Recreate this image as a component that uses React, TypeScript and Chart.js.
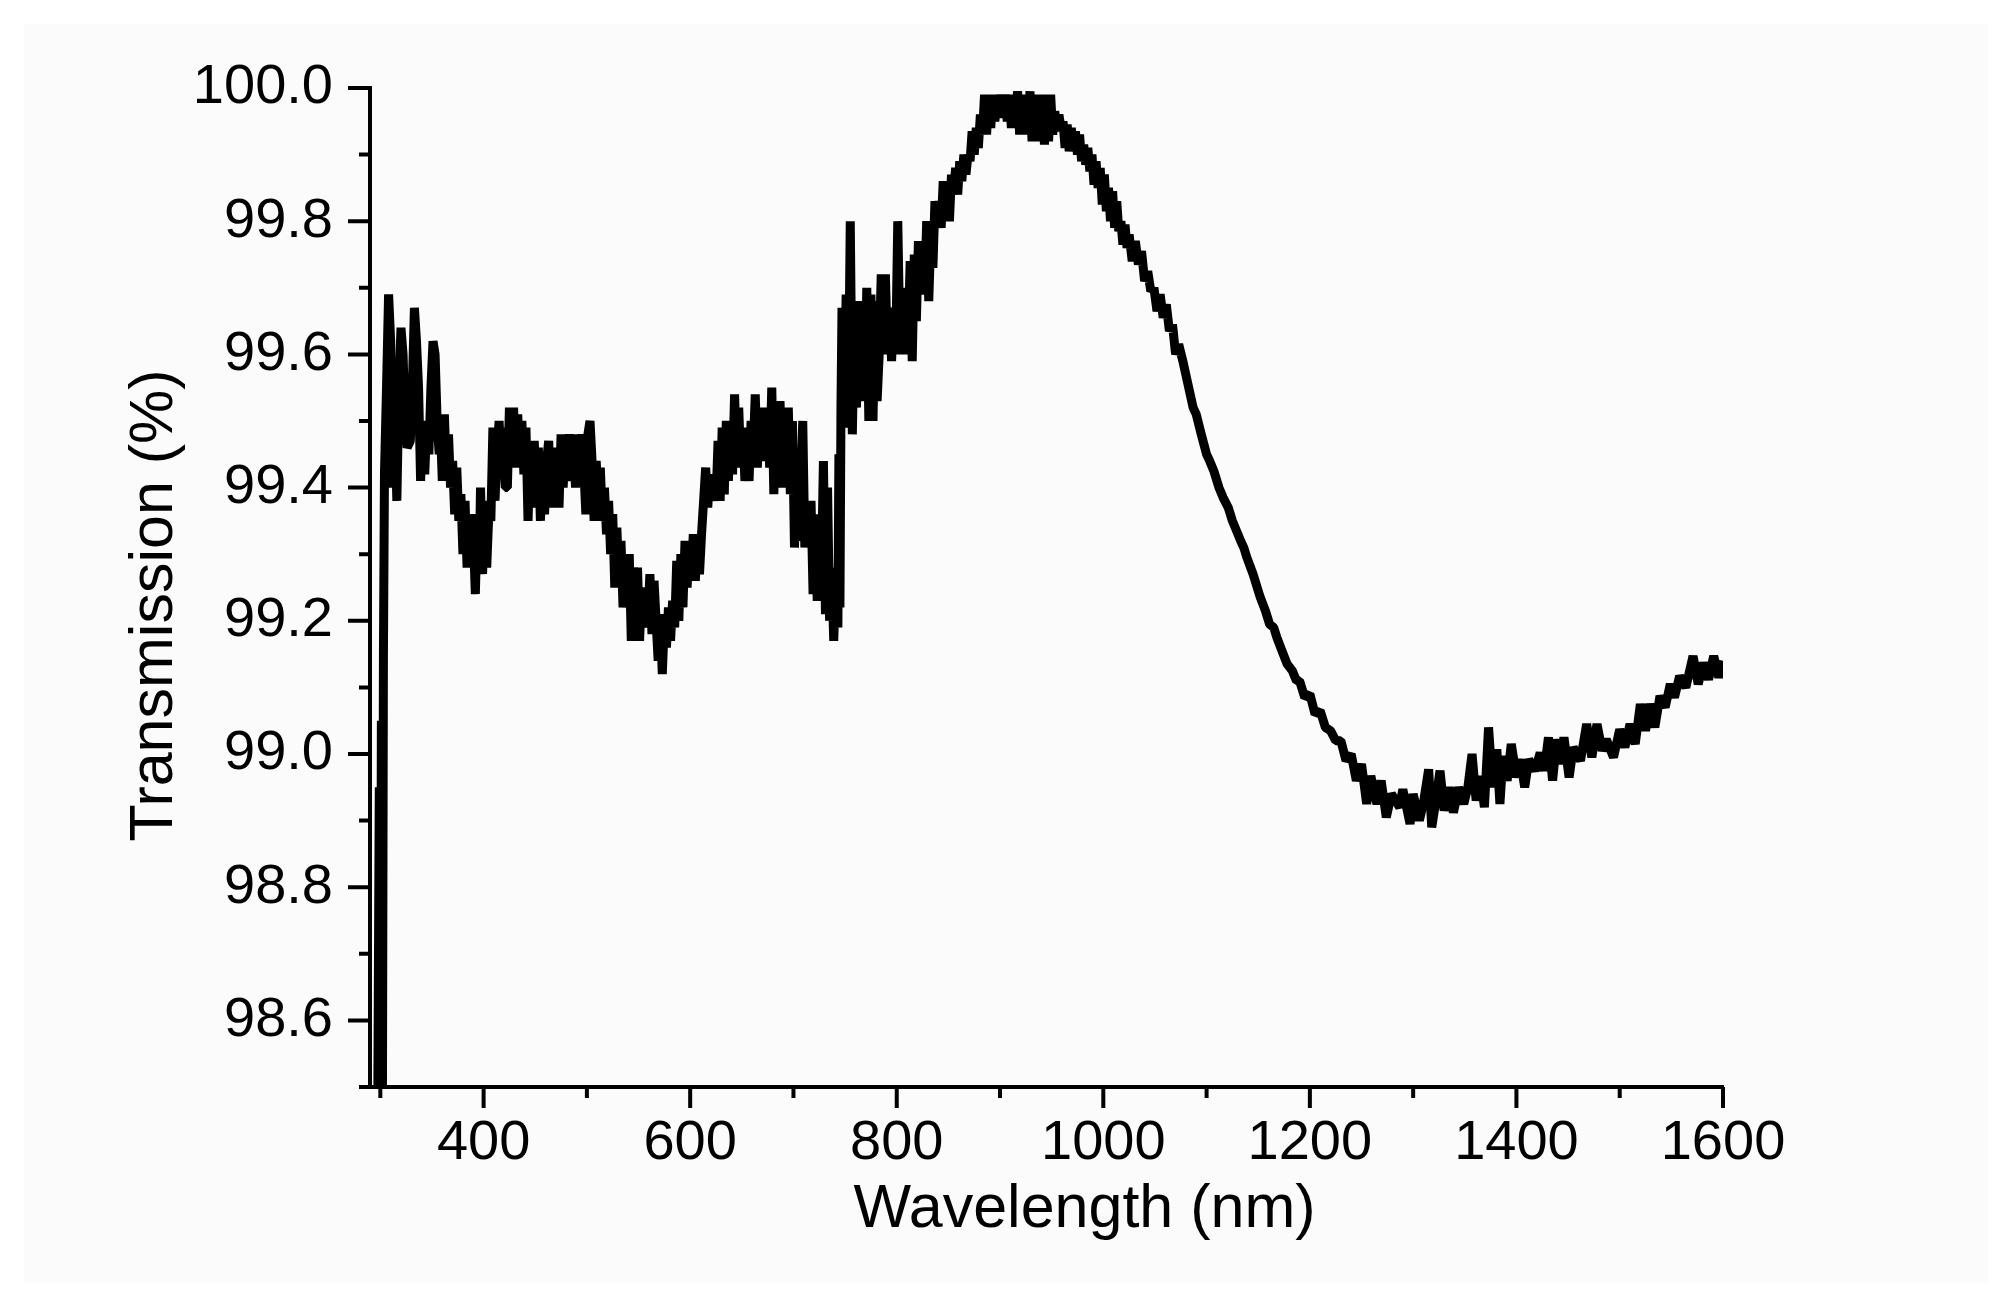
import { useEffect, useRef } from 'react';
import { Chart, registerables } from 'chart.js';
import type { Plugin } from 'chart.js';

Chart.register(...registerables);

const FONT = '"Liberation Sans", Arial, Helvetica, sans-serif';
const INK = '#000000';

// Axis ranges and ticks.
const X_MIN = 290;
const X_MAX = 1600;
const Y_MIN = 98.5;
const Y_MAX = 100.0;
const X_MAJOR = [400, 600, 800, 1000, 1200, 1400, 1600];
const X_MINOR = [300, 500, 700, 900, 1100, 1300, 1500];
const Y_MAJOR = [98.6, 98.8, 99.0, 99.2, 99.4, 99.6, 99.8, 100.0];
const Y_MINOR = [98.5, 98.7, 98.9, 99.1, 99.3, 99.5, 99.7, 99.9];

const X_TITLE = 'Wavelength (nm)';
const Y_TITLE = 'Transmission (%)';

// Spectrum as [wavelength nm, transmission %].
// Where the trace is noisy the pairs swing between the top and bottom of the band.
const SPECTRUM_UV: [number, number][] = [
  [297, 98.3], [299, 98.95], [300, 98.4], [301, 99.05], [302, 98.45], [303, 99.15], [304, 99.42],
  [306, 99.55], [308, 99.69], [310, 99.62], [312, 99.4], [314, 99.5], [316, 99.38], [318, 99.55],
  [320, 99.64], [322, 99.6], [324, 99.5], [326, 99.46], [329, 99.47], [331, 99.55], [333, 99.67],
  [335, 99.62], [337, 99.55], [339, 99.41], [341, 99.5], [343, 99.42], [345, 99.5], [347, 99.45],
  [349, 99.55], [351, 99.62], [353, 99.6], [355, 99.5], [357, 99.45], [358, 99.5], [360, 99.41],
  [362, 99.51], [364, 99.42], [366, 99.48], [368, 99.4], [370, 99.44], [372, 99.36], [374, 99.43],
  [376, 99.35], [378, 99.39], [380, 99.3], [382, 99.38], [384, 99.28], [386, 99.36], [388, 99.29],
  [390, 99.33], [392, 99.24], [394, 99.36], [396, 99.3], [397, 99.4], [399, 99.27], [401, 99.38],
  [403, 99.28], [405, 99.36], [407, 99.35], [409, 99.49], [411, 99.38], [413, 99.45], [415, 99.5],
  [417, 99.42], [419, 99.49], [421, 99.4], [423, 99.4], [425, 99.52], [427, 99.45], [429, 99.52],
  [431, 99.43], [433, 99.51], [435, 99.44], [437, 99.5], [439, 99.42], [441, 99.49], [443, 99.35],
  [445, 99.45], [447, 99.37], [449, 99.47],
];

const SPECTRUM_VIS: [number, number][] = [
  [451, 99.4], [453, 99.46], [455, 99.35], [457, 99.42], [459, 99.36], [461, 99.44], [463, 99.47],
  [465, 99.37], [467, 99.45], [469, 99.38], [471, 99.46], [473, 99.37], [475, 99.48], [477, 99.4],
  [479, 99.47], [481, 99.41], [483, 99.48], [485, 99.42], [487, 99.47], [489, 99.4], [491, 99.48],
  [493, 99.43], [495, 99.48], [497, 99.43], [499, 99.36], [501, 99.48], [503, 99.5], [505, 99.44],
  [507, 99.35], [509, 99.44], [511, 99.38], [513, 99.43], [515, 99.35], [517, 99.4], [519, 99.33],
  [521, 99.38], [523, 99.3], [525, 99.36], [527, 99.25], [529, 99.34], [531, 99.26], [533, 99.32],
  [535, 99.22], [537, 99.3], [539, 99.24], [541, 99.3], [543, 99.17], [545, 99.28], [547, 99.19],
  [549, 99.28], [551, 99.17], [553, 99.25], [555, 99.19], [557, 99.25], [559, 99.2], [561, 99.27],
  [563, 99.18], [565, 99.26], [567, 99.2], [569, 99.14], [571, 99.21], [573, 99.12], [575, 99.2],
  [577, 99.16], [579, 99.22], [581, 99.17], [583, 99.23], [585, 99.19], [587, 99.29], [589, 99.2],
  [591, 99.3], [593, 99.22], [595, 99.32], [597, 99.25], [599, 99.31], [601, 99.26], [603, 99.33],
  [605, 99.26], [607, 99.32], [609, 99.27], [611, 99.33], [613, 99.38], [615, 99.43], [617, 99.37],
  [619, 99.42], [621, 99.38], [623, 99.42], [625, 99.38], [627, 99.47], [629, 99.38], [631, 99.49],
  [633, 99.39], [635, 99.5], [637, 99.41], [639, 99.5], [641, 99.42], [643, 99.54], [645, 99.43],
  [647, 99.52], [649, 99.43], [651, 99.49], [653, 99.41], [655, 99.48], [657, 99.41], [659, 99.5],
  [661, 99.45], [663, 99.54], [665, 99.43], [667, 99.5], [669, 99.44], [671, 99.52], [673, 99.44],
  [675, 99.5], [677, 99.43], [679, 99.55], [681, 99.39], [683, 99.52], [685, 99.45], [687, 99.53],
  [689, 99.4], [691, 99.52], [693, 99.41], [695, 99.52], [697, 99.39], [699, 99.5], [701, 99.31],
  [703, 99.43], [705, 99.32], [707, 99.4], [709, 99.5], [711, 99.31], [713, 99.38], [715, 99.33],
  [717, 99.38], [719, 99.24], [721, 99.36], [723, 99.23], [725, 99.32], [727, 99.26], [729, 99.44],
  [731, 99.21], [733, 99.4], [735, 99.2], [737, 99.28], [739, 99.17], [741, 99.27], [743, 99.19],
  [744, 99.45], [745, 99.22],
];

const SPECTRUM_NIR: [number, number][] = [
  [746, 99.52], [747, 99.67], [749, 99.5], [751, 99.69], [753, 99.49], [755, 99.8], [757, 99.48],
  [759, 99.66], [761, 99.52], [763, 99.68], [765, 99.54], [767, 99.66], [769, 99.53], [771, 99.7],
  [773, 99.5], [775, 99.69], [777, 99.5], [779, 99.68], [781, 99.53], [783, 99.6], [785, 99.72],
  [787, 99.6], [789, 99.72], [791, 99.6], [793, 99.67], [795, 99.59], [797, 99.67], [799, 99.6],
  [801, 99.8], [803, 99.62], [805, 99.7], [807, 99.6], [809, 99.68], [811, 99.62], [813, 99.74],
  [815, 99.59], [817, 99.75], [819, 99.65], [821, 99.77], [823, 99.7], [825, 99.76], [827, 99.69],
  [829, 99.8], [831, 99.68], [833, 99.78], [835, 99.73], [837, 99.83], [839, 99.79], [841, 99.83],
  [843, 99.79], [845, 99.86], [847, 99.8], [849, 99.86], [851, 99.8], [853, 99.87], [855, 99.84],
  [857, 99.88], [859, 99.84], [861, 99.89], [863, 99.86], [865, 99.9], [867, 99.87], [869, 99.9],
  [871, 99.89], [873, 99.935], [875, 99.9], [877, 99.94], [879, 99.91], [881, 99.96], [883, 99.93],
  [885, 99.99], [887, 99.93], [889, 99.99], [891, 99.94], [893, 99.99], [895, 99.95], [897, 99.985],
  [899, 99.96], [901, 99.99], [903, 99.955], [905, 99.99], [907, 99.95], [909, 99.99], [911, 99.94],
  [913, 99.99], [915, 99.95], [917, 99.995], [919, 99.93], [921, 99.99], [923, 99.95], [925, 99.99],
  [927, 99.93], [929, 99.995], [931, 99.92], [933, 99.99], [935, 99.93], [937, 99.99], [939, 99.92],
  [941, 99.99], [943, 99.915], [945, 99.985], [947, 99.92], [949, 99.99], [951, 99.93], [953, 99.965],
  [955, 99.935], [957, 99.96], [959, 99.94], [961, 99.95], [963, 99.91], [965, 99.945], [967, 99.905],
  [969, 99.94], [971, 99.905], [973, 99.935], [975, 99.9], [977, 99.93], [979, 99.89], [981, 99.915],
  [983, 99.885], [985, 99.91], [987, 99.875], [989, 99.9], [991, 99.855], [993, 99.89], [995, 99.85],
  [997, 99.88], [999, 99.825], [1001, 99.87], [1003, 99.815], [1005, 99.85], [1007, 99.8],
  [1009, 99.845], [1011, 99.79], [1013, 99.83], [1015, 99.785], [1017, 99.8], [1019, 99.765],
  [1021, 99.795], [1023, 99.76], [1025, 99.78], [1028, 99.74], [1031, 99.77], [1034, 99.735],
  [1037, 99.755], [1040, 99.71], [1043, 99.725], [1046, 99.695], [1049, 99.7], [1052, 99.665],
  [1055, 99.69], [1058, 99.655], [1061, 99.675], [1064, 99.635], [1067, 99.645], [1070, 99.6],
  [1073, 99.615],
];

const SPECTRUM_IR: [number, number][] = [
  [1077, 99.59], [1082, 99.555], [1087, 99.52], [1090, 99.51], [1094, 99.485], [1100, 99.45],
  [1103, 99.44], [1107, 99.425], [1112, 99.4], [1116, 99.385], [1121, 99.37], [1125, 99.35],
  [1129, 99.335], [1133, 99.32], [1136, 99.31], [1139, 99.295], [1145, 99.27], [1149, 99.25],
  [1152, 99.235], [1157, 99.215], [1161, 99.195], [1165, 99.19], [1168, 99.175], [1173, 99.155],
  [1178, 99.135], [1183, 99.125], [1187, 99.11], [1190, 99.11], [1195, 99.085], [1200, 99.09],
  [1205, 99.06], [1210, 99.065], [1215, 99.04], [1220, 99.035], [1225, 99.02], [1230, 99.02],
  [1235, 98.99], [1240, 99.0], [1245, 98.96], [1250, 98.985], [1255, 98.925], [1259, 98.967],
  [1265, 98.925], [1269, 98.96], [1274, 98.905], [1279, 98.94], [1287, 98.92], [1290, 98.947],
  [1297, 98.895], [1300, 98.94], [1306, 98.9], [1310, 98.927], [1315, 98.977], [1318, 98.89],
  [1322, 98.93], [1326, 98.975], [1330, 98.915], [1335, 98.95], [1339, 98.912], [1344, 98.95],
  [1349, 98.925], [1353, 98.95], [1357, 99.0], [1361, 98.93], [1365, 98.967], [1369, 98.92],
  [1373, 99.04], [1377, 98.95], [1381, 99.007], [1384, 98.925], [1387, 98.997], [1391, 98.96],
  [1395, 99.015], [1400, 98.965], [1404, 98.992], [1408, 98.95], [1412, 98.992], [1418, 98.975],
  [1423, 99.002], [1427, 98.975], [1431, 99.025], [1435, 98.96], [1439, 99.022], [1443, 98.985],
  [1446, 99.025], [1451, 98.965], [1455, 99.01], [1462, 98.99], [1468, 99.045], [1473, 98.995],
  [1478, 99.045], [1483, 99.005], [1487, 99.022], [1494, 98.995], [1500, 99.037], [1505, 99.01],
  [1510, 99.045], [1515, 99.015], [1520, 99.075], [1525, 99.035], [1529, 99.075], [1534, 99.04],
  [1539, 99.087], [1544, 99.07], [1549, 99.105], [1553, 99.085], [1558, 99.117], [1564, 99.1],
  [1571, 99.147], [1576, 99.105], [1581, 99.137], [1586, 99.112], [1591, 99.147], [1596, 99.115],
  [1600, 99.14],
];

// Origin-style outward ticks (long majors, short minors) plus the two axis titles.
const axisDecor: Plugin<'line'> = {
  id: 'axisDecor',
  afterDraw(chart) {
    const { ctx, chartArea: area, scales } = chart;
    const xs = scales.x;
    const ys = scales.y;
    ctx.save();
    ctx.strokeStyle = INK;
    ctx.lineWidth = 4;
    ctx.beginPath();
    X_MAJOR.forEach((v) => {
      const px = xs.getPixelForValue(v);
      ctx.moveTo(px, area.bottom);
      ctx.lineTo(px, area.bottom + 21);
    });
    X_MINOR.forEach((v) => {
      const px = xs.getPixelForValue(v);
      ctx.moveTo(px, area.bottom);
      ctx.lineTo(px, area.bottom + 11);
    });
    Y_MAJOR.forEach((v) => {
      const py = ys.getPixelForValue(v);
      ctx.moveTo(area.left, py);
      ctx.lineTo(area.left - 22, py);
    });
    Y_MINOR.forEach((v) => {
      const py = ys.getPixelForValue(v);
      ctx.moveTo(area.left, py);
      ctx.lineTo(area.left - 11, py);
    });
    ctx.stroke();

    ctx.fillStyle = INK;
    ctx.font = `61px ${FONT}`;
    ctx.textAlign = 'center';
    ctx.textBaseline = 'alphabetic';
    ctx.fillText(X_TITLE, (area.left + area.right) / 2 + 38, area.bottom + 140);
    ctx.translate(area.left - 198, (area.top + area.bottom) / 2 + 18);
    ctx.rotate(-Math.PI / 2);
    ctx.fillText(Y_TITLE, 0, 0);
    ctx.restore();
  },
};

export default function App() {
  const canvasRef = useRef<HTMLCanvasElement | null>(null);

  useEffect(() => {
    const canvas = canvasRef.current;
    if (!canvas) return;
    const points = [...SPECTRUM_UV, ...SPECTRUM_VIS, ...SPECTRUM_NIR, ...SPECTRUM_IR].map(
      ([x, y]) => ({ x, y }),
    );
    const tickFont = { family: FONT, size: 56 };
    const chart = new Chart(canvas, {
      type: 'line',
      data: {
        datasets: [
          {
            data: points,
            borderColor: INK,
            borderWidth: 9,
            borderJoinStyle: 'bevel',
            pointRadius: 0,
            tension: 0,
            clip: 0,
          },
        ],
      },
      options: {
        responsive: true,
        maintainAspectRatio: false,
        animation: false,
        layout: { padding: { left: 0, top: 88, right: 288, bottom: 0 } },
        plugins: { legend: { display: false }, tooltip: { enabled: false } },
        scales: {
          x: {
            type: 'linear',
            min: X_MIN,
            max: X_MAX,
            afterBuildTicks: (s) => {
              s.ticks = X_MAJOR.map((value) => ({ value }));
            },
            afterFit: (s) => {
              s.height = 225;
            },
            grid: { display: true, drawOnChartArea: false, drawTicks: false },
            border: { display: true, color: INK, width: 4 },
            ticks: {
              color: INK,
              font: tickFont,
              padding: 23,
              maxRotation: 0,
              autoSkip: false,
              callback: (v) => String(v),
            },
          },
          y: {
            type: 'linear',
            min: Y_MIN,
            max: Y_MAX,
            afterBuildTicks: (s) => {
              s.ticks = Y_MAJOR.map((value) => ({ value }));
            },
            afterFit: (s) => {
              s.width = 370;
            },
            grid: { display: true, drawOnChartArea: false, drawTicks: false },
            border: { display: true, color: INK, width: 4 },
            ticks: {
              color: INK,
              font: tickFont,
              padding: 37,
              autoSkip: false,
              callback: (v) => Number(v).toFixed(1),
            },
          },
        },
      },
      plugins: [axisDecor],
    });
    return () => chart.destroy();
  }, []);

  return (
    <div style={{ position: 'absolute', left: 0, top: 0, width: 2011, height: 1312, background: '#ffffff' }}>
      <div
        style={{ position: 'absolute', left: 24, top: 24, width: 1964, height: 1259, background: '#fbfbfb' }}
      />
      <div style={{ position: 'absolute', left: 0, top: 0, width: 2011, height: 1312 }}>
        <canvas ref={canvasRef} />
      </div>
    </div>
  );
}
